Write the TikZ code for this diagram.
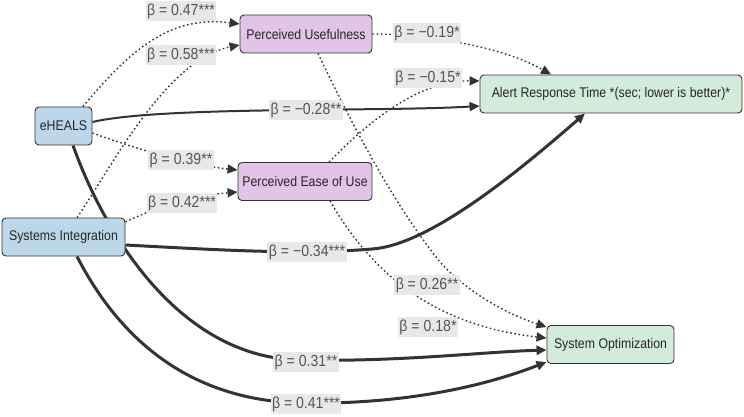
\documentclass[tikz,border=0pt]{standalone}
\usepackage{fontspec}
\setmainfont{Liberation Sans}
\newfontfamily\nodefont[FakeStretch=0.88]{Liberation Sans}
\newfontfamily\labfont[FakeStretch=0.88]{Liberation Sans}
\usetikzlibrary{arrows.meta}
\pgfdeclarelayer{bg}
\pgfsetlayers{bg,main}
\definecolor{edgec}{HTML}{333333}
\definecolor{bluef}{HTML}{BCD6EA}
\definecolor{purpf}{HTML}{E2C4E8}
\definecolor{greenf}{HTML}{D3EBDB}
\definecolor{labbg}{HTML}{E8E8E8}
\definecolor{labtxt}{HTML}{555555}
\begin{document}
\begin{tikzpicture}[x=1pt,y=-1pt,
  box/.style={draw=edgec, line width=0.9pt, rounded corners=4pt, minimum height=38pt,
    inner sep=0pt, text=black!85, font=\nodefont\fontsize{14}{16}\selectfont},
  bluebox/.style={box, fill=bluef},
  purpbox/.style={box, fill=purpf},
  greenbox/.style={box, fill=greenf},
  lab/.style={fill=labbg, text=labtxt, inner xsep=1.5pt, inner ysep=2pt,
    text height=12pt, text depth=4pt, font=\labfont\fontsize{16}{18}\selectfont},
  conn/.style={draw=edgec, -{Triangle[length=10pt,width=9pt]}},
  dots/.style={conn, line width=1.4pt, dash pattern=on 1.6pt off 2.6pt},
  wmid/.style={conn, line width=2pt},
  wbig/.style={conn, line width=3pt},
]
\useasboundingbox (0,0) rectangle (744,416);

% nodes
\node[bluebox, minimum width=57pt] (eh) at (63.5,126) {eHEALS};
\node[bluebox, minimum width=123pt] (si) at (63.5,237) {Systems Integration};
\node[purpbox, minimum width=132pt] (pu) at (306,34) {Perceived Usefulness};
\node[purpbox, minimum width=134pt] (peou) at (305,181.5) {Perceived Ease of Use};
\node[greenbox, minimum width=262pt] (art) at (611,94) {Alert Response Time *(sec; lower is better)*};
\node[greenbox, minimum width=127pt] (so) at (610.5,344.5) {System Optimization};

% connectors
\begin{pgfonlayer}{bg}
\draw[dots] ([xshift=19.5pt]eh.north) .. controls (130,50) and (170,15) .. ([yshift=10pt]pu.west);
\draw[dots] ([xshift=13.5pt]si.north) .. controls (110,170) and (165,60) .. ([yshift=-11pt]pu.west);
\draw[dots] ([yshift=-7pt]eh.east) .. controls (140,150) and (190,165) .. ([yshift=11.5pt]peou.west);
\draw[dots] ([yshift=15pt]si.east) .. controls (160,205) and (200,195) .. ([yshift=-10.5pt]peou.west);
\draw[wmid] ([yshift=4pt]eh.east) .. controls (160,106) and (380,112) .. ([yshift=-12pt]art.west);
\draw[dots] (pu.east) .. controls (420,34) and (500,45) .. ([xshift=-60pt]art.north);
\draw[dots] ([xshift=24pt]peou.north) .. controls (370,120) and (420,80) .. ([yshift=13pt]art.west);
\draw[wbig] ([yshift=-8pt]si.east) .. controls (220,250) and (300,255) .. (372,249)
  .. controls (430,245) and (520,170) .. ([xshift=-26pt]art.south);
\draw[dots] ([xshift=12pt]pu.south) .. controls (345,110) and (390,200) .. (440,262)
  .. controls (470,295) and (510,315) .. ([yshift=17.5pt]so.west);
\draw[dots] ([xshift=25pt]peou.south) .. controls (370,270) and (430,325) .. ([yshift=6.5pt]so.west);
\draw[wbig] ([xshift=9.5pt]eh.south) .. controls (105,235) and (180,358) .. (300,360)
  .. controls (400,362) and (480,352) .. ([yshift=-5.5pt]so.west);
\draw[wbig] ([xshift=13.5pt]si.south) .. controls (120,340) and (190,400) .. (300,403)
  .. controls (420,405) and (500,380) .. ([yshift=-17.5pt]so.west);
\end{pgfonlayer}

% labels
\node[lab] (l1) at (181,11) {β = 0.47***};
\node[lab] (l2) at (181,55) {β = 0.58***};
\node[lab] (l3) at (181,160) {β = 0.39**};
\node[lab] (l4) at (182,203) {β = 0.42***};
\node[lab] (l5) at (306,110) {β = −0.28**};
\node[lab] (l6) at (427,33) {β = −0.19*};
\node[lab] (l7) at (428,78) {β = −0.15*};
\node[lab] (l8) at (307,252) {β = −0.34***};
\node[lab] (l9) at (427,285) {β = 0.26**};
\node[lab] (l10) at (428,327) {β = 0.18*};
\node[lab] (l11) at (306,362) {β = 0.31**};
\node[lab] (l12) at (306,404) {β = 0.41***};
\end{tikzpicture}
\end{document}
